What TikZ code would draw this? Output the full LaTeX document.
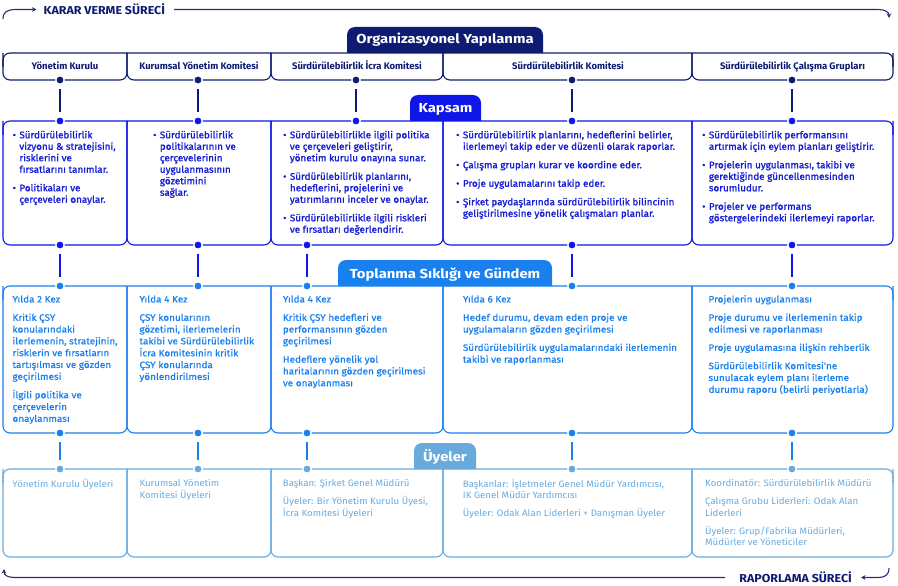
\documentclass[tikz,border=0pt]{standalone}
\usepackage{fontspec}
\setmainfont{Fira Sans}
\newfontfamily\fTab{Fira Sans}[FakeStretch=1.14]
\newfontfamily\fProc{Fira Sans}[FakeStretch=1.08]
\newfontfamily\fSemi{Fira Sans}[FakeBold=1.4, FakeStretch=1.04]
\newfontfamily\fMed{Fira Sans}[FakeBold=0.7, FakeStretch=1.07]
\newfontfamily\fLight{Fira Sans}[FakeStretch=1.04]
\usetikzlibrary{arrows.meta}
\definecolor{cnavy}{RGB}{14,27,112}
\definecolor{cblue}{RGB}{14,22,232}
\definecolor{cbluetxt}{RGB}{22,30,210}
\definecolor{cmid}{RGB}{26,128,238}
\definecolor{clight}{RGB}{104,170,220}
\definecolor{cproc}{RGB}{38,44,118}
\newcommand\rowframe[3]{%
  \draw[#1, line width=1.1pt, rounded corners=7pt] (3,#2+14) -- (3,#2) -- (893,#2) -- (893,#2+14);
  \foreach \xa/\xb in {3/127,127/271,271/443,443/692,692/893}
    \draw[#1, line width=1.1pt, rounded corners=7pt] (\xa,#2) -- (\xa,#3) -- (\xb,#3) -- (\xb,#2);}
\newcommand\tabshape[5]{%
  \fill[#1] (#2,#5) {[rounded corners=8pt] -- (#2,#4) -- (#3,#4)} -- (#3,#5) -- cycle;}
\begin{document}
\begin{tikzpicture}[x=1pt,y=-1pt,
  dot/.style={circle, fill=#1, draw=white, line width=1.3pt, minimum size=8.5pt, inner sep=0pt},
  conn/.style={draw=#1, line width=1.2pt, shorten <=4pt, shorten >=4pt},
  tabtext/.style={text=white, font=\fTab\bfseries\fontsize{13}{15}\selectfont, anchor=base, inner sep=0pt},
  headtxt/.style={text=cnavy, font=\bfseries\fontsize{9.5}{11}\selectfont, anchor=base, inner sep=0pt},
  kaptxt/.style={text=cbluetxt, font=\fSemi\fontsize{9.5}{11.5}\selectfont, anchor=north west, inner sep=0pt},
  toptxt/.style={text=cmid, font=\fMed\fontsize{9.3}{11.8}\selectfont, anchor=north west, inner sep=0pt},
  uyetxt/.style={text=clight, font=\fLight\fontsize{9.3}{11.7}\selectfont, anchor=north west, inner sep=0pt},
  proctxt/.style={text=cnavy, font=\fProc\bfseries\fontsize{11.5}{13}\selectfont, inner sep=0pt},
  proc/.style={draw=cproc, line width=1.1pt}
]
\useasboundingbox (0,0) rectangle (898,586);

% ---------- process lines
\node[proctxt, anchor=west] (kv) at (43.5,9.5) {KARAR VERME SÜRECİ};
\coordinate (kvs) at (3,19);
\coordinate (kve) at (889,18);
\draw[proc, -{Stealth[length=4.5pt,width=4.5pt]}] (kvs) .. controls (3,12) and (7,9.5) .. (16,9.5) -- ([xshift=-7pt]kv.west);
\draw[proc, -{Stealth[length=4.5pt,width=4.5pt]}] ([xshift=9pt]kv.east) -- (878,9.5) .. controls (885,9.5) and (889,12) .. (kve);

\node[proctxt, anchor=east] (rp) at (852,577.5) {RAPORLAMA SÜRECİ};
\coordinate (rps) at (889,568);
\coordinate (rpe) at (4,569);
\draw[proc, -{Stealth[length=4.5pt,width=4.5pt]}] (rps) .. controls (889,575) and (885,577.5) .. (878,577.5) -- ([xshift=9pt]rp.east);
\draw[proc, -{Stealth[length=4.5pt,width=4.5pt]}] ([xshift=-14pt]rp.west) -- (15,577.5) .. controls (8,577.5) and (4,575.5) .. (rpe);

% ---------- row frames
\rowframe{cnavy}{53}{80}
\rowframe{cblue}{121}{245}
\rowframe{cmid}{286}{433}
\rowframe{clight}{469}{557}

% ---------- tabs
\tabshape{cnavy}{347}{543}{27}{53}
\node[tabtext] (tOrg) at (445,44) {Organizasyonel Yapılanma};
\tabshape{cblue}{410}{481}{95}{121}
\node[tabtext] (tKap) at (445.5,112.5) {Kapsam};
\tabshape{cmid}{338}{552}{260}{286}
\node[tabtext] (tTop) at (445,278.3) {Toplanma Sıklığı ve Gündem};
\tabshape{clight}{414}{476}{443}{469}
\node[tabtext] (tUye) at (445,461) {Üyeler};

% ---------- row 1 titles
\node[headtxt] (h1) at (65,70) {Yönetim Kurulu};
\node[headtxt] (h2) at (199,70) {Kurumsal Yönetim Komitesi};
\node[headtxt] (h3) at (357,70) {Sürdürülebilirlik İcra Komitesi};
\node[headtxt] (h4) at (568,70) {Sürdürülebilirlik Komitesi};
\node[headtxt] (h5) at (792.5,70) {Sürdürülebilirlik Çalışma Grupları};

% ---------- dots
\foreach \i/\x in {1/60,2/198,3/356,4/572,5/792} {
  \node[dot=cnavy] (a\i) at (\x,80) {};
  \node[dot=cblue] (b\i) at (\x,121) {};
}
\foreach \i/\x in {1/60,2/198,3/307,4/572,5/792} {
  \node[dot=cblue] (c\i) at (\x,245) {};
  \node[dot=cmid] (d\i) at (\x,286) {};
  \node[dot=cmid] (e\i) at (\x,433) {};
  \node[dot=clight] (f\i) at (\x,469) {};
}
\foreach \i in {1,...,5} {
  \draw[conn=cnavy] (a\i) -- (b\i);
  \draw[conn=cblue] (c\i) -- (d\i);
  \draw[conn=cmid] (e\i) -- (f\i);
}

% ---------- Kapsam texts
\node[kaptxt] (k1) at (12.5,130) {\begin{tabular}{@{}l@{\hspace{3.5pt}}l@{}}
• & Sürdürülebilirlik\\ & vizyonu \& stratejisini,\\ & risklerini ve\\ & fırsatlarını tanımlar.\\[7pt]
• & Politikaları ve\\ & çerçeveleri onaylar.\end{tabular}};
\node[kaptxt] (k2) at (153,130) {\begin{tabular}{@{}l@{\hspace{3.5pt}}l@{}}
• & Sürdürülebilirlik\\ & politikalarının ve\\ & çerçevelerinin\\ & uygulanmasının\\ & gözetimini\\ & sağlar.\end{tabular}};
\node[kaptxt] (k3) at (283,130) {\begin{tabular}{@{}l@{\hspace{3.5pt}}l@{}}
• & Sürdürülebilirlikle ilgili politika\\ & ve çerçeveleri geliştirir,\\ & yönetim kurulu onayına sunar.\\[7pt]
• & Sürdürülebilirlik planlarını,\\ & hedeflerini, projelerini ve\\ & yatırımlarını inceler ve onaylar.\\[7pt]
• & Sürdürülebilirlikle ilgili riskleri\\ & ve fırsatları değerlendirir.\end{tabular}};
\node[kaptxt] (k4) at (456,130) {\begin{tabular}{@{}l@{\hspace{3.5pt}}l@{}}
• & Sürdürülebilirlik planlarını, hedeflerini belirler,\\ & ilerlemeyi takip eder ve düzenli olarak raporlar.\\[7pt]
• & Çalışma grupları kurar ve koordine eder.\\[7pt]
• & Proje uygulamalarını takip eder.\\[7pt]
• & Şirket paydaşlarında sürdürülebilirlik bilincinin\\ & geliştirilmesine yönelik çalışmaları planlar.\end{tabular}};
\node[kaptxt] (k5) at (702,130) {\begin{tabular}{@{}l@{\hspace{3.5pt}}l@{}}
• & Sürdürülebilirlik performansını\\ & artırmak için eylem planları geliştirir.\\[7pt]
• & Projelerin uygulanması, takibi ve\\ & gerektiğinde güncellenmesinden\\ & sorumludur.\\[7pt]
• & Projeler ve performans\\ & göstergelerindeki ilerlemeyi raporlar.\end{tabular}};

% ---------- Toplanma texts
\node[toptxt] (m1) at (12.3,294) {\begin{tabular}{@{}l@{}}
Yılda 2 Kez\\[6.5pt] Kritik ÇSY\\ konularındaki\\ ilerlemenin, stratejinin,\\ risklerin ve fırsatların\\ tartışılması ve gözden\\ geçirilmesi\\[6.5pt]
İlgili politika ve\\ çerçevelerin\\ onaylanması\end{tabular}};
\node[toptxt] (m2) at (139.3,294) {\begin{tabular}{@{}l@{}}
Yılda 4 Kez\\[6.5pt] ÇSY konularının\\ gözetimi, ilerlemelerin\\ takibi ve Sürdürülebilirlik\\ İcra Komitesinin kritik\\ ÇSY konularında\\ yönlendirilmesi\end{tabular}};
\node[toptxt] (m3) at (282.7,294) {\begin{tabular}{@{}l@{}}
Yılda 4 Kez\\[6.5pt] Kritik ÇSY hedefleri ve\\ performansının gözden\\ geçirilmesi\\[6.5pt]
Hedeflere yönelik yol\\ haritalarının gözden geçirilmesi\\ ve onaylanması\end{tabular}};
\node[toptxt] (m4) at (462.7,294) {\begin{tabular}{@{}l@{}}
Yılda 6 Kez\\[6.5pt] Hedef durumu, devam eden proje ve\\ uygulamaların gözden geçirilmesi\\[6.5pt]
Sürdürülebilirlik uygulamalarındaki ilerlemenin\\ takibi ve raporlanması\end{tabular}};
\node[toptxt] (m5) at (708.3,294) {\begin{tabular}{@{}l@{}}
Projelerin uygulanması\\[6.5pt] Proje durumu ve ilerlemenin takip\\ edilmesi ve raporlanması\\[6.5pt]
Proje uygulamasına ilişkin rehberlik\\[6.5pt]
Sürdürülebilirlik Komitesi'ne\\ sunulacak eylem planı ilerleme\\ durumu raporu (belirli periyotlarla)\end{tabular}};

% ---------- Üyeler texts
\node[uyetxt] (u1) at (12.3,478.5) {\begin{tabular}{@{}l@{}}Yönetim Kurulu Üyeleri\end{tabular}};
\node[uyetxt] (u2) at (139.3,478.5) {\begin{tabular}{@{}l@{}}Kurumsal Yönetim\\ Komitesi Üyeleri\end{tabular}};
\node[uyetxt] (u3) at (282.7,478.5) {\begin{tabular}{@{}l@{}}Başkan: Şirket Genel Müdürü\\[6pt]
Üyeler: Bir Yönetim Kurulu Üyesi,\\ İcra Komitesi Üyeleri\end{tabular}};
\node[uyetxt] (u4) at (462.7,478.5) {\begin{tabular}{@{}l@{}}Başkanlar: İşletmeler Genel Müdür Yardımcısı,\\ IK Genel Müdür Yardımcısı\\[6pt]
Üyeler: Odak Alan Liderleri + Danışman Üyeler\end{tabular}};
\node[uyetxt] (u5) at (705,478.5) {\begin{tabular}{@{}l@{}}Koordinatör: Sürdürülebilirlik Müdürü\\[6pt]
Çalışma Grubu Liderleri: Odak Alan\\ Liderleri\\[6pt]
Üyeler: Grup/Fabrika Müdürleri,\\ Müdürler ve Yöneticiler\end{tabular}};
\end{tikzpicture}
\end{document}
